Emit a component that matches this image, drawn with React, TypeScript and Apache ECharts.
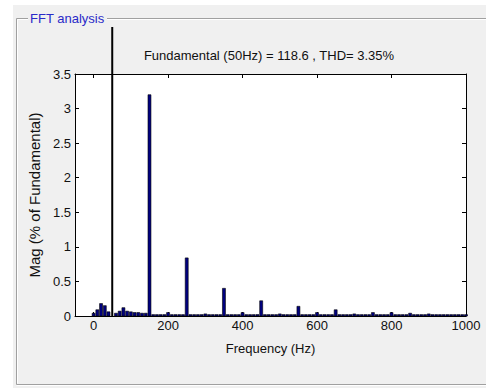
import React, { useEffect, useRef } from "react";
import * as echarts from "echarts";

// Frequency bins (Hz)
const FREQS_HZ: number[] = [
  0, 10, 20, 30, 40, 50, 60, 70, 80, 90,
  100, 110, 120, 130, 140, 150, 160, 170, 180, 190,
  200, 210, 220, 230, 240, 250, 260, 270, 280, 290,
  300, 310, 320, 330, 340, 350, 360, 370, 380, 390,
  400, 410, 420, 430, 440, 450, 460, 470, 480, 490,
  500, 510, 520, 530, 540, 550, 560, 570, 580, 590,
  600, 610, 620, 630, 640, 650, 660, 670, 680, 690,
  700, 710, 720, 730, 740, 750, 760, 770, 780, 790,
  800, 810, 820, 830, 840, 850, 860, 870, 880, 890,
  900, 910, 920, 930, 940, 950, 960, 970, 980, 990,
  1000,
];

// Magnitude (% of fundamental) per bin
const MAGS_PCT: number[] = [
  0.04, 0.09, 0.18, 0.15, 0.06, 100, 0.04, 0.07, 0.12, 0.07,
  0.06, 0.05, 0.05, 0.04, 0.04, 3.2, 0.02, 0.02, 0.02, 0.02,
  0.05, 0.02, 0.02, 0.02, 0.02, 0.84, 0.02, 0.02, 0.02, 0.02,
  0.03, 0.02, 0.02, 0.02, 0.02, 0.4, 0.02, 0.02, 0.02, 0.02,
  0.05, 0.02, 0.02, 0.02, 0.02, 0.22, 0.02, 0.02, 0.02, 0.02,
  0.03, 0.02, 0.02, 0.02, 0.02, 0.14, 0.02, 0.02, 0.02, 0.02,
  0.05, 0.02, 0.02, 0.02, 0.02, 0.09, 0.02, 0.02, 0.02, 0.02,
  0.03, 0.02, 0.02, 0.02, 0.02, 0.05, 0.02, 0.02, 0.02, 0.02,
  0.05, 0.02, 0.02, 0.02, 0.02, 0.04, 0.02, 0.02, 0.02, 0.02,
  0.03, 0.02, 0.02, 0.02, 0.02, 0.02, 0.02, 0.02, 0.02, 0.02,
  0.02,
];

const FUNDAMENTAL_HZ = 50;
const BIN_HZ = 10;
const PANEL_TITLE = "FFT analysis";
const PLOT_TITLE = "Fundamental (50Hz) = 118.6 , THD= 3.35%";
const X_NAME = "Frequency (Hz)";
const Y_NAME = "Mag (% of Fundamental)";

const FONT = "'Liberation Sans', Arial, sans-serif";
const CLIP_TOP = 27;

export default function App() {
  const ref = useRef<HTMLDivElement>(null);

  useEffect(() => {
    if (!ref.current) return;
    const chart = echarts.init(ref.current, undefined, { renderer: "svg" });

    const data = FREQS_HZ.map((f, i) => [f, MAGS_PCT[i]]);

    const axisCommon = {
      type: "value" as const,
      axisLine: { show: true, onZero: false, lineStyle: { color: "#000", width: 1 } },
      axisTick: { show: true, inside: true, length: 4, lineStyle: { color: "#000" } },
      splitLine: { show: false },
    };

    const option: any = {
      animation: false,
      backgroundColor: "#ffffff",
      textStyle: { fontFamily: FONT },
      grid: {
        left: 75,
        top: 74,
        width: 391,
        height: 242,
        show: true,
        backgroundColor: "#ffffff",
        borderWidth: 0,
        containLabel: false,
      },
      xAxis: [
        {
          ...axisCommon,
          position: "bottom",
          min: -50,
          max: 1000,
          splitNumber: 5,
          axisLabel: {
            show: true,
            showMinLabel: false,
            margin: 3,
            color: "#111",
            fontSize: 13,
            fontFamily: FONT,
            formatter: (v: number) => String(v),
          },
          name: X_NAME,
          nameLocation: "middle",
          nameGap: 26,
          nameTextStyle: { color: "#111", fontSize: 13, fontFamily: FONT },
        },
        {
          ...axisCommon,
          position: "top",
          min: -50,
          max: 1000,
          splitNumber: 5,
          axisLabel: { show: false },
        },
      ],
      yAxis: [
        {
          ...axisCommon,
          position: "left",
          min: 0,
          max: 3.5,
          interval: 0.5,
          axisLabel: {
            show: true,
            margin: 4,
            color: "#111",
            fontSize: 13,
            fontFamily: FONT,
          },
          name: Y_NAME,
          nameLocation: "middle",
          nameGap: 29,
          nameTextStyle: { color: "#111", fontSize: 15, fontFamily: FONT },
        },
        {
          ...axisCommon,
          position: "right",
          min: 0,
          max: 3.5,
          interval: 0.5,
          axisLabel: { show: false },
        },
      ],
      graphic: [
        {
          type: "rect",
          z: -100,
          silent: true,
          shape: { x: 13, y: 5, width: 473, height: 383 },
          style: { fill: "#f0f0f0" },
        },
        // etched group box
        { type: "line", z: 100, shape: { x1: 16.5, y1: 18.5, x2: 16.5, y2: 384.5 }, style: { stroke: "#a0a0a0", lineWidth: 1 } },
        { type: "line", z: 100, shape: { x1: 17.5, y1: 19.5, x2: 17.5, y2: 383.5 }, style: { stroke: "#ffffff", lineWidth: 1 } },
        { type: "line", z: 100, shape: { x1: 16.5, y1: 18.5, x2: 28, y2: 18.5 }, style: { stroke: "#a0a0a0", lineWidth: 1 } },
        { type: "line", z: 100, shape: { x1: 17.5, y1: 19.5, x2: 28, y2: 19.5 }, style: { stroke: "#ffffff", lineWidth: 1 } },
        { type: "line", z: 100, shape: { x1: 107, y1: 18.5, x2: 486, y2: 18.5 }, style: { stroke: "#a0a0a0", lineWidth: 1 } },
        { type: "line", z: 100, shape: { x1: 107, y1: 19.5, x2: 486, y2: 19.5 }, style: { stroke: "#ffffff", lineWidth: 1 } },
        { type: "line", z: 100, shape: { x1: 16.5, y1: 384.5, x2: 486, y2: 384.5 }, style: { stroke: "#a0a0a0", lineWidth: 1 } },
        { type: "line", z: 100, shape: { x1: 16.5, y1: 385.5, x2: 486, y2: 385.5 }, style: { stroke: "#ffffff", lineWidth: 1 } },
        {
          type: "text",
          z: 100,
          x: 30,
          y: 18,
          style: {
            text: PANEL_TITLE,
            fill: "#2a2ac8",
            font: `13px ${FONT}`,
            align: "left",
            verticalAlign: "middle",
          },
        },
        {
          type: "text",
          z: 100,
          x: 269,
          y: 55,
          style: {
            text: PLOT_TITLE,
            fill: "#111",
            font: `13px ${FONT}`,
            align: "center",
            verticalAlign: "middle",
          },
        },
      ],
      series: [
        {
          type: "custom",
          xAxisIndex: 0,
          yAxisIndex: 0,
          clip: false,
          data,
          renderItem: (params: any, api: any) => {
            const f = api.value(0);
            const v = api.value(1);
            const top = api.coord([f, v]);
            const base = api.coord([f, 0]);
            const isFund = f === FUNDAMENTAL_HZ;
            const w = isFund ? 2 : api.size([BIN_HZ, 0])[0] * 0.8;
            const y = Math.max(top[1], CLIP_TOP);
            return {
              type: "rect",
              shape: { x: top[0] - w / 2, y, width: w, height: base[1] - y },
              style: isFund
                ? { fill: "#000000" }
                : { fill: "#000080", stroke: "#000000", lineWidth: 0.6 },
            };
          },
        },
      ],
    };

    chart.setOption(option);
    return () => chart.dispose();
  }, []);

  return (
    <div
      ref={ref}
      style={{ position: "absolute", left: 0, top: 0, width: 486, height: 388 }}
    />
  );
}
